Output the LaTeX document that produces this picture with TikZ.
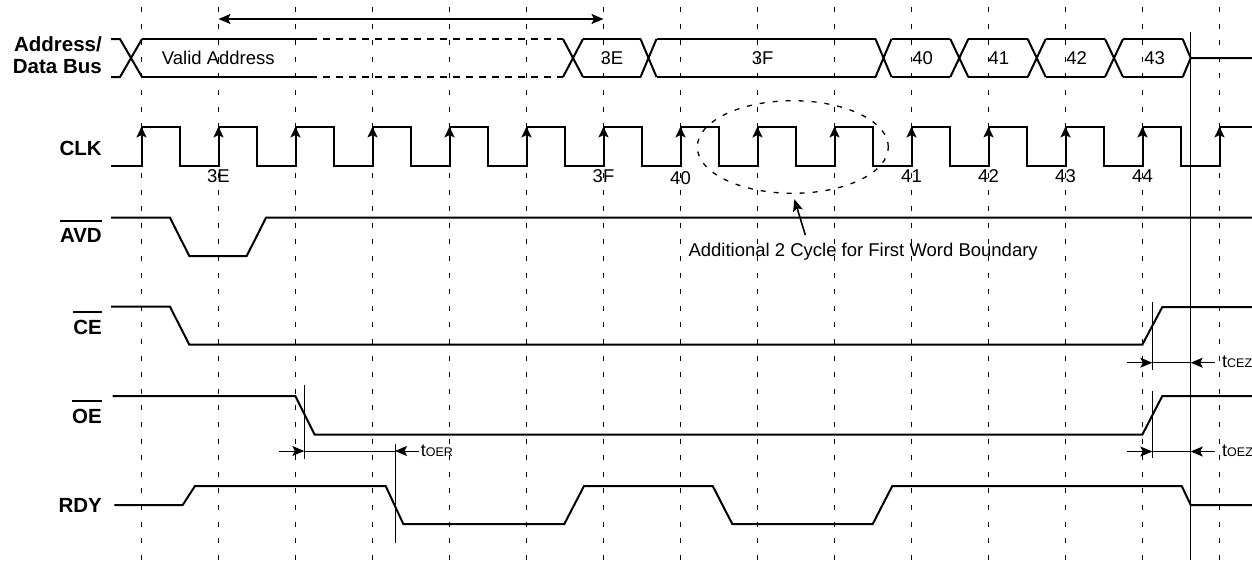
\documentclass[tikz,border=0pt]{standalone}
\usepackage{fontspec}
\setmainfont{Liberation Sans}
\usetikzlibrary{arrows.meta,shapes.geometric}
\newcommand\ovl[1]{\vbox{\hrule height 2.5pt\kern 6.5pt\hbox{#1}}}
\newcommand\tsub[2]{{\fontsize{18}{20}\selectfont #1}{\fontsize{12.5}{14}\selectfont #2}}
\begin{document}
\begin{tikzpicture}[x=1pt,y=-1pt,
  sig/.style={line width=2pt,line join=miter},
  gridl/.style={line width=1.2pt,dash pattern=on 5pt off 11.6pt},
  thinl/.style={line width=1pt},
  tipa/.style={-{Stealth[length=12pt,width=10pt,inset=2.5pt]}},
  lbl/.style={font=\fontsize{20.5}{22.3}\selectfont\bfseries,inner sep=0pt},
  txt/.style={font=\fontsize{18.5}{22}\selectfont,inner sep=0pt}]
\fill[white] (0,0) rectangle (1252,571);
\useasboundingbox (0,0) rectangle (1252,571);

% grid of clock edges
\foreach \i in {0,...,14} \draw[gridl] ({141.5+77*\i},7) -- ({141.5+77*\i},571);

% top span arrow
\coordinate (spanL) at (218.5,19);
\coordinate (spanR) at (603.5,19);
\draw[line width=2pt,{Stealth[length=12pt,width=10pt,inset=2.5pt]}-{Stealth[length=12pt,width=10pt,inset=2.5pt]}] (spanL) -- (spanR);

% signal labels
\node[lbl,align=right,anchor=east] (addr) at (102,55.5) {Address/\\Data Bus};
\node[lbl,anchor=base east] (clk) at (102,155) {CLK};
\node[lbl,anchor=base east] (avd) at (102,242.7) {\ovl{AVD}};
\node[lbl,anchor=base east] (ce) at (102,334) {\ovl{CE}};
\node[lbl,anchor=base east] (oe) at (102,423) {\ovl{OE}};
\node[lbl,anchor=base east] (rdy) at (102,512.7) {RDY};

% address / data bus
\draw[sig] (111,39) -- (120,39) -- (142,77) (111,77) -- (120,77) -- (142,39);
\draw[sig] (142,39) -- (310,39) (142,77) -- (310,77);
\draw[sig,dash pattern=on 7pt off 6pt] (310,39) -- (563,39) (310,77) -- (563,77);
\foreach \c/\w in {573/10,648.5/8,883.5/8,959.3/9,1036.7/9,1114/9}
  \draw[sig] ({\c-\w},39) -- ({\c+\w},77) ({\c-\w},77) -- ({\c+\w},39);
\foreach \a/\b in {583/640.5,656.5/875.5,891.5/950.3,968.3/1027.7,1045.7/1105,1123/1182.7}
  \draw[sig] (\a,39) -- (\b,39) (\a,77) -- (\b,77);
\draw[sig] (1182.7,39) -- (1190.7,58) -- (1182.7,77) (1190.7,58) -- (1252,58);
\node[txt,anchor=base west] (valid) at (161.7,64) {Valid Address};
\node[txt,anchor=base] (d3E) at (612,64) {3E};
\node[txt,anchor=base] (d3F) at (762.7,64) {3F};
\node[txt,anchor=base] (d40) at (922.7,64) {40};
\node[txt,anchor=base] (d41) at (998.8,64) {41};
\node[txt,anchor=base] (d42) at (1076.7,64) {42};
\node[txt,anchor=base] (d43) at (1154.7,64) {43};

% clock
\draw[sig] (111,165.7)
  \foreach \i in {0,...,13} { -- ({141.5+77*\i},165.7) -- ({141.5+77*\i},127.3) -- ({180.2+77*\i},127.3) -- ({180.2+77*\i},165.7) }
  -- (1219.5,165.7) -- (1219.5,127.3) -- (1252,127.3);
\foreach \i in {0,...,14}
  \draw[line width=2pt,-{Stealth[length=11pt,width=10pt,inset=2.5pt]}] ({141.5+77*\i},145) -- ({141.5+77*\i},126.5);
\node[txt,anchor=base] (c3E) at (218.5,182.5) {3E};
\node[txt,anchor=base] (c3F) at (603.5,182.5) {3F};
\node[txt,anchor=base] (c40) at (680.5,184.5) {40};
\node[txt,anchor=base] (c41) at (911.5,182.5) {41};
\node[txt,anchor=base] (c42) at (988.5,182.5) {42};
\node[txt,anchor=base] (c43) at (1065.5,182.5) {43};
\node[txt,anchor=base] (c44) at (1142.5,182.5) {44};

% dashed ellipse and note
\node[draw,ellipse,minimum width=191pt,minimum height=92.6pt,inner sep=0pt,line width=1.3pt,dash pattern=on 5pt off 8pt] (ell) at (792.8,147) {};
\node[txt,anchor=base west] (note) at (688.3,256.7) {Additional 2 Cycle for First Word Boundary};
\draw[line width=1.6pt,tipa,shorten >=5.5pt] ([xshift=-57.8pt,yshift=8pt]note.north) -- (ell.south);

% AVD, CE, OE, RDY
\draw[sig] (111,217.7) -- (170,217.7) -- (189.3,256) -- (246.7,256) -- (266,217.7) -- (1252,217.7);
\draw[sig] (111,306.7) -- (170,306.7) -- (189.3,344.7) -- (1142.3,344.7) -- (1162.3,307) -- (1252,307);
\draw[sig] (112.7,396) -- (295.3,396) -- (314.7,434.7) -- (1142.3,434.7) -- (1162.3,396) -- (1252,396);
\draw[sig] (114.3,505) -- (182.7,505) -- (195,486) -- (385.7,486) -- (403.3,524) -- (564.3,524) -- (584,486) -- (712.7,486) -- (732.3,524) -- (872.7,524) -- (892.3,486) -- (1181.7,486) -- (1190.7,505) -- (1252,505);

% reference vertical line
\draw[thinl] (1190.7,31.7) -- (1190.7,560);

% tCEZ
\draw[thinl] (1152.3,302) -- (1152.3,370);
\coordinate (ceA) at (1127,362.7);
\coordinate (ceB) at (1152.3,362.7);
\coordinate (ceC) at (1190.7,362.7);
\coordinate (ceD) at (1215,362.7);
\draw[thinl,tipa] (ceA) -- (ceB);
\draw[thinl] (ceB) -- (ceC);
\draw[thinl,tipa] (ceD) -- (ceC);
\node[inner sep=0pt,anchor=base west] (tcez) at (1222,367.3) {\tsub{t}{CEZ}};

% tOEZ
\draw[thinl] (1152.3,391) -- (1152.3,458.3);
\coordinate (oeA) at (1127,451.5);
\coordinate (oeB) at (1152.3,451.5);
\coordinate (oeC) at (1190.7,451.5);
\coordinate (oeD) at (1215,451.5);
\draw[thinl,tipa] (oeA) -- (oeB);
\draw[thinl] (oeB) -- (oeC);
\draw[thinl,tipa] (oeD) -- (oeC);
\node[inner sep=0pt,anchor=base west] (toez) at (1222,456.2) {\tsub{t}{OEZ}};

% tOER
\draw[thinl] (304.3,385) -- (304.3,459.3);
\draw[thinl] (395,444.3) -- (395,542.7);
\coordinate (orA) at (279,451);
\coordinate (orB) at (304.3,451);
\coordinate (orC) at (395,451);
\coordinate (orD) at (419,451);
\draw[thinl,tipa] (orA) -- (orB);
\draw[thinl] (orB) -- (orC);
\draw[thinl,tipa] (orD) -- (orC);
\node[inner sep=0pt,anchor=base west] (toer) at (420.7,456.7) {\tsub{t}{OER}};
\end{tikzpicture}
\end{document}
